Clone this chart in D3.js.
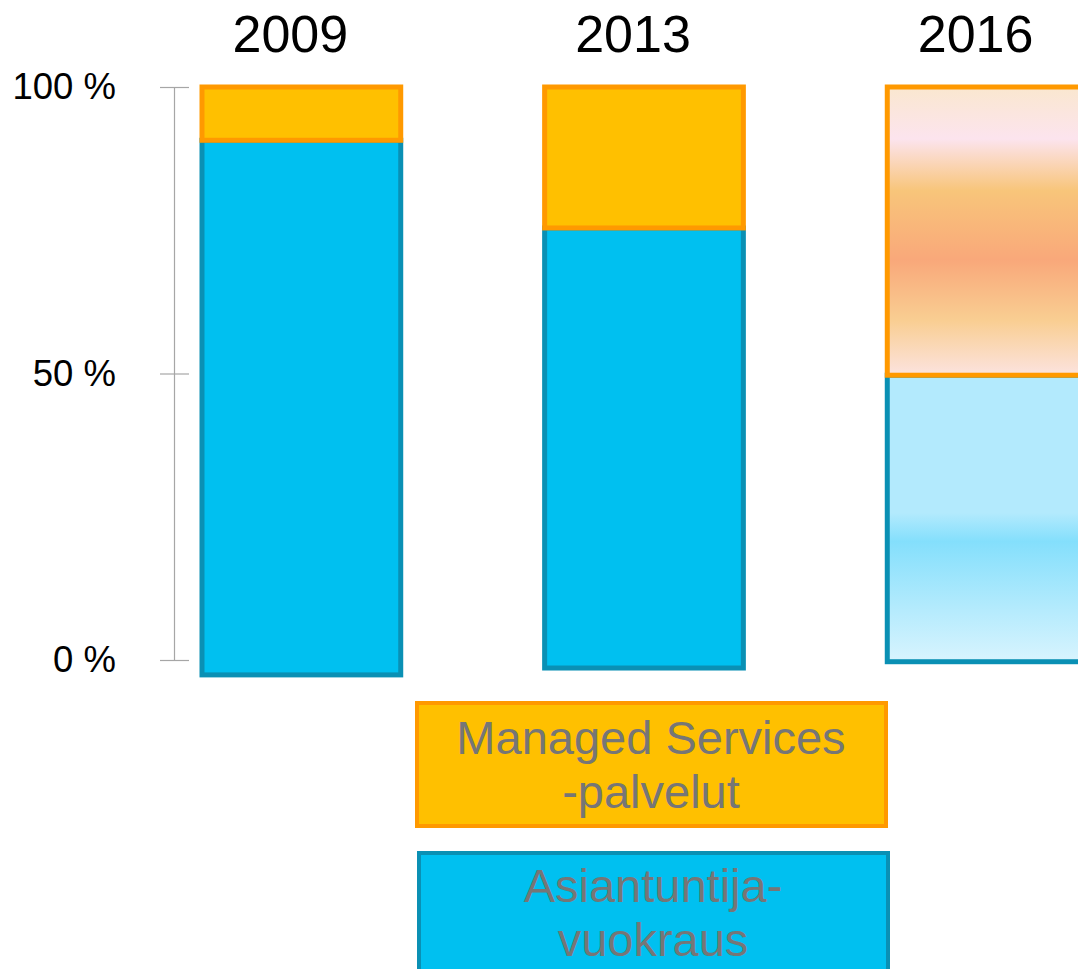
<!DOCTYPE html>
<html>
<head>
<meta charset="utf-8">
<script src="https://cdn.jsdelivr.net/npm/d3@7"></script>
<style>
  html, body { margin: 0; padding: 0; background: #fff; overflow: hidden; }
  svg { display: block; font-family: "Liberation Sans", Arial, sans-serif; }
</style>
</head>
<body>
<div id="chart"></div>
<script>
// --- data ---
const years = ['2009', '2013', '2016'];
const asiantuntija = [93.3, 76.8, 50.0];     // blue, bottom segment (%)
const managed = [9.3, 24.6, 50.3];           // orange, top segment (%)
const baseOffset = [-2.6, -1.4, -0.3];       // bars do not sit exactly on 0 %
const yTicks = [0, 50, 100];
const legendItems = [
  { key: 'managed', lines: ['Managed Services', '-palvelut'] },
  { key: 'asiantuntija', lines: ['Asiantuntija-', 'vuokraus'] }
];

const W = 1078, H = 969;
const COL = {
  managed: { fill: '#FFC000', stroke: '#FF9900' },
  asiantuntija: { fill: '#00C0F0', stroke: '#0A90B4' }
};

const svg = d3.select('#chart').append('svg').attr('width', W).attr('height', H);
const defs = svg.append('defs');

// soft gradients used for the 2016 (forecast) bar
const gOrange = defs.append('linearGradient').attr('id', 'gOrange')
  .attr('x1', 0).attr('y1', 0).attr('x2', 0).attr('y2', 1);
[[0, '#FAE7CF'], [0.18, '#FCE4EE'], [0.36, '#F8C57A'], [0.6, '#F9A87A'], [0.81, '#F9CE92'], [1, '#FCE3DF']]
  .forEach(([o, c]) => gOrange.append('stop').attr('offset', o).attr('stop-color', c));
const gBlue = defs.append('linearGradient').attr('id', 'gBlue')
  .attr('x1', 0).attr('y1', 0).attr('x2', 0).attr('y2', 1);
[[0, '#B3EAFD'], [0.48, '#B3EAFD'], [0.58, '#84DFFC'], [0.82, '#B5EBFD'], [1, '#D8F4FE']]
  .forEach(([o, c]) => gBlue.append('stop').attr('offset', o).attr('stop-color', c));

const x = d3.scaleBand().domain(years).range([202, 1086]).paddingInner(0.42).paddingOuter(0);
const y = d3.scaleLinear().domain([0, 100]).range([660, 87]);

// Axis (ticks cross the line on both sides)
const axisX = 174;
const axL = svg.append('g').attr('transform', `translate(${axisX},0)`)
  .call(d3.axisLeft(y).tickValues(yTicks).tickSize(14).tickSizeOuter(0).tickPadding(44)
    .tickFormat(d => d + ' %'));
const axR = svg.append('g').attr('transform', `translate(${axisX},0)`)
  .call(d3.axisRight(y).tickValues(yTicks).tickSize(15).tickSizeOuter(0).tickFormat(''));
axR.select('.domain').remove();
svg.selectAll('.tick line, .domain').attr('stroke', '#A6A6A6').attr('stroke-width', 1.2);
axL.selectAll('.tick text').attr('fill', '#000').style('font-size', '36.5px')
  .style('font-family', '"Liberation Sans", Arial, sans-serif');

// Bars
const rows = years.map((yr, i) => {
  const b0 = baseOffset[i], b1 = b0 + asiantuntija[i], o1 = b1 + managed[i];
  return { yr, i, b0, b1, o1 };
});
const SW = 5;
const bars = svg.selectAll('.bar').data(rows).join('g').attr('class', 'bar');

bars.append('rect')
  .attr('x', d => x(d.yr)).attr('width', x.bandwidth())
  .attr('y', d => y(d.b1)).attr('height', d => y(d.b0) - y(d.b1))
  .attr('fill', d => d.yr === '2016' ? 'url(#gBlue)' : COL.asiantuntija.fill)
  .attr('stroke', COL.asiantuntija.stroke).attr('stroke-width', SW);

bars.append('rect')
  .attr('x', d => x(d.yr)).attr('width', x.bandwidth())
  .attr('y', d => y(d.o1)).attr('height', d => y(d.b1) - y(d.o1))
  .attr('fill', d => d.yr === '2016' ? 'url(#gOrange)' : COL.managed.fill)
  .attr('stroke', COL.managed.stroke).attr('stroke-width', SW);

// Year labels
svg.selectAll('.year').data(years).join('text').attr('class', 'year')
  .attr('x', d => x(d) + x.bandwidth() / 2 - 11).attr('y', 52)
  .attr('text-anchor', 'middle').attr('fill', '#000').style('font-size', '52px')
  .text(d => d);

// Legend boxes below the bars
const legend = svg.selectAll('.legend').data(legendItems).join('g').attr('class', 'legend')
  .attr('transform', (d, i) => `translate(${417 + i * 2},${703 + i * 150})`);
legend.append('rect').attr('width', 469).attr('height', 123)
  .attr('fill', d => COL[d.key].fill).attr('stroke', d => COL[d.key].stroke).attr('stroke-width', 4);
legend.each(function (d, i) {
  const t = d3.select(this).append('text').attr('text-anchor', 'middle')
    .attr('fill', '#767676').style('font-size', '47px');
  d.lines.forEach((ln, j) => t.append('tspan').attr('x', 234).attr('y', 51 - i * 2 + j * 54).text(ln));
});
</script>
</body>
</html>
